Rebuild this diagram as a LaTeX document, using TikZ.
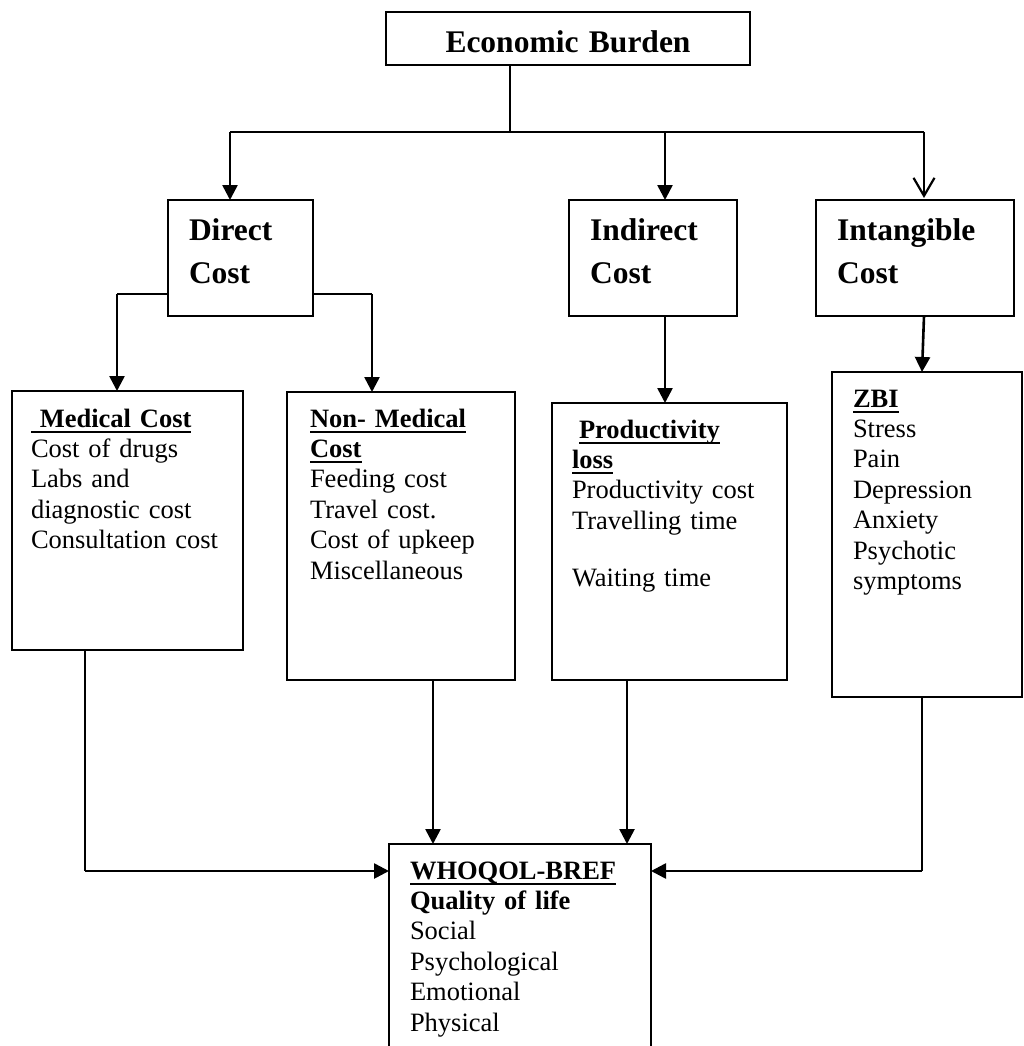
\documentclass[tikz,border=0pt]{standalone}
\usepackage{fontspec}
\setmainfont{Liberation Serif}
\usetikzlibrary{arrows.meta}

\newsavebox{\ulbox}
\newcommand{\ulword}[1]{\sbox{\ulbox}{#1}\rlap{\rule[-6pt]{\wd\ulbox}{2.4pt}}\usebox{\ulbox}}

\tikzset{
	box/.style={draw, line width=1.8pt, anchor=north west, outer sep=0pt,
		inner ysep=0pt, inner xsep=21pt, align=left,
		font=\fontsize{26.5}{30.4}\selectfont},
	headbox/.style={box, font=\bfseries\fontsize{31.5}{43}\selectfont},
	line/.style={line width=1.8pt},
	arr/.style={line width=2.6pt, -{Triangle[length=15pt,width=15pt]}},
	openarr/.style={line width=2.2pt, -{Straight Barb[length=18pt,width=21pt]}},
}

\begin{document}
\begin{tikzpicture}[x=1pt, y=-1pt]
	\useasboundingbox (0,0) rectangle (1024,1046);

	\node[headbox, align=center, inner xsep=10pt, text width=344pt,
	text height=41pt, text depth=12pt] (burden) at (386,12) {Economic Burden};

	\node[headbox, text width=103pt, text height=40pt, text depth=76pt]
	(direct) at (168,200) {Direct\\Cost};
	\node[headbox, text width=126pt, text height=40pt, text depth=76pt]
	(indirect) at (569,200) {Indirect\\Cost};
	\node[headbox, text width=156pt, text height=40pt, text depth=76pt]
	(intang) at (816,200) {Intangible\\Cost};

	\node[box, inner xsep=19pt, text width=193pt, text height=36pt, text depth=223pt]
	(med) at (12,391) {%
		\textbf{\ulword{\ Medical Cost}}\\
		Cost of drugs\\
		Labs and\\
		diagnostic cost\\
		Consultation cost};
	\node[box, inner xsep=23pt, text width=182pt, text height=35pt, text depth=253pt]
	(nonmed) at (287,392) {%
		\textbf{\ulword{Non- Medical}}\\
		\textbf{\ulword{Cost}}\\
		Feeding cost\\
		Travel cost.\\
		Cost of upkeep\\
		Miscellaneous};
	\node[box, inner xsep=20pt, text width=195pt, text height=35pt, text depth=242pt]
	(prod) at (552,403) {%
		\hspace*{7pt}\textbf{\ulword{Productivity}}\\
		\textbf{\ulword{loss}}\\
		Productivity cost\\
		Travelling time\\[26.6pt]
		Waiting time};
	\node[box, text width=148pt, text height=35pt, text depth=290pt]
	(zbi) at (832,372) {%
		\textbf{\ulword{ZBI}}\\
		Stress\\
		Pain\\
		Depression\\
		Anxiety\\
		Psychotic\\
		symptoms};
	\node[box, text width=220pt, text height=35pt, text depth=195pt]
	(qol) at (389,844) {%
		\textbf{\ulword{WHOQOL-BREF}}\\
		\textbf{Quality of life}\\
		Social\\
		Psychological\\
		Emotional\\
		Physical};

	\coordinate (split) at (510,132);
	\coordinate (dtop) at (230,132);
	\coordinate (itop) at (665,132);
	\coordinate (ntop) at (924,132);
	\draw[line] (burden.south -| split) -- (split);
	\draw[line] (dtop) -- (ntop);
	\draw[arr] (dtop) -- (dtop |- direct.north);
	\draw[arr] (itop) -- (itop |- indirect.north);
	\draw[openarr] (ntop) -- ([yshift=2pt]ntop |- intang.north);

	\coordinate (dl) at (117,294);
	\coordinate (dr) at (372,294);
	\draw[line] (direct.west |- dl) -- (dl);
	\draw[arr] (dl) -- (dl |- med.north);
	\draw[line] (direct.east |- dr) -- (dr);
	\draw[arr] (dr) -- (dr |- nonmed.north);

	\draw[arr] ([xshift=12pt]indirect.south) -- ([xshift=12pt]indirect.south |- prod.north);
	\draw[arr] ([xshift=9pt]intang.south) -- ([xshift=-5pt]zbi.north);

	\coordinate (ql) at (85,871);
	\coordinate (qr) at (922,871);
	\draw[line] ([xshift=-42.5pt]med.south) -- (ql);
	\draw[arr] (ql) -- (ql -| qol.west);
	\draw[arr] ([xshift=32pt]nonmed.south) -- ([xshift=32pt]nonmed.south |- qol.north);
	\draw[arr] ([xshift=-42.5pt]prod.south) -- ([xshift=-42.5pt]prod.south |- qol.north);
	\draw[line] ([xshift=-5pt]zbi.south) -- (qr);
	\draw[arr] (qr) -- (qr -| qol.east);
\end{tikzpicture}
\end{document}
